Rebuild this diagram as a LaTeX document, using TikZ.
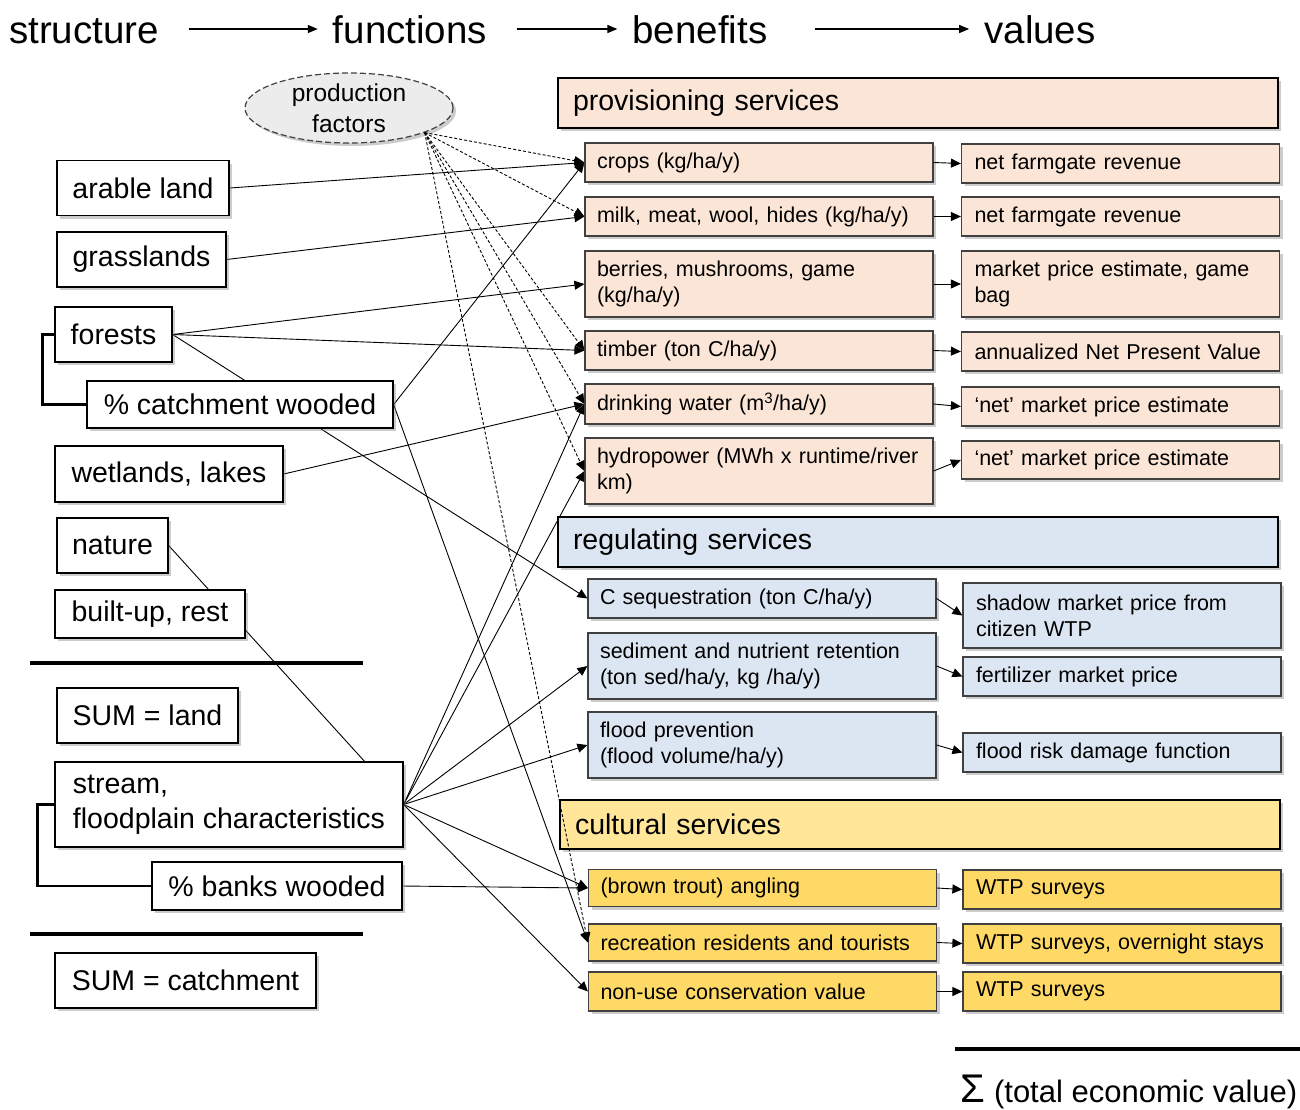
\documentclass[tikz,border=0pt]{standalone}
\usepackage{fontspec}
\setmainfont{Liberation Sans}
\usepackage{tikz}
\usetikzlibrary{arrows.meta, shapes.geometric, shadows, backgrounds}
\definecolor{provfill}{HTML}{FBE5D6}
\definecolor{regfill}{HTML}{DCE6F2}
\definecolor{culthead}{HTML}{FFE699}
\definecolor{cultfill}{HTML}{FFD966}
\definecolor{boxline}{HTML}{404040}
\newcommand{\fsize}[2]{\fontsize{#1}{#2}\selectfont}
\tikzset{
    boxshadow/.style={drop shadow={shadow xshift=3pt, shadow yshift=-3pt, opacity=0.4}},
    head/.style={font=\fsize{38.5}{46}, inner sep=0pt, text height=28pt, text depth=0pt},
    land/.style={draw, fill=white, line width=1.3pt, boxshadow, font=\fsize{28.5}{35}, minimum height=55pt, inner sep=0pt},
    svc/.style={draw, line width=1.8pt, boxshadow, font=\fsize{28.5}{34}, minimum height=50pt, text width=690pt, inner xsep=15pt, inner ysep=0pt, align=left},
    fn/.style={draw=boxline, line width=1.2pt, boxshadow, font=\fsize{21.5}{26}, minimum height=39pt, text width=324pt, inner xsep=12pt, inner ysep=0pt, align=left},
    val/.style={fn, text width=292pt, inner xsep=13pt},
    link/.style={line width=0.9pt, -{Triangle[length=10pt, width=9pt]}},
    factor/.style={link, dash pattern=on 3pt off 2pt},
    bracket/.style={line width=2.6pt},
    rule/.style={line width=3.5pt},
}

\begin{document}
\begin{tikzpicture}[x=1pt, y=-1pt]
    \useasboundingbox (0, 0) rectangle (1300, 1109);
    % header row
    \node[head] (ST) at (84, 29){structure};
    \node[head] (FN) at (410, 29){functions};
    \node[head] (BN) at (700, 29){benefits};
    \node[head] (VA) at (1040, 29){values};
    \draw[line width=1.3pt, -{Triangle[length=10pt, width=8pt]}, shorten <=30pt, shorten >=15pt] (ST) -- (FN);
    \draw[line width=1.3pt, -{Triangle[length=10pt, width=8pt]}, shorten <=30pt, shorten >=15pt] (FN) -- (BN);
    \draw[line width=1.3pt, -{Triangle[length=10pt, width=8pt]}, shorten <=47pt, shorten >=15pt] (BN) -- (VA);
    % structure
    \node[land, minimum width=172pt] (AL) at (143, 188){arable land};
    \node[land, minimum width=169pt] (GL) at (141.5, 259.5){grasslands};
    \node[land, minimum width=117pt] (FO) at (113.5, 334.5){forests};
    \node[land, minimum width=306pt, minimum height=47pt] (CW) at (240, 404.5){\% catchment wooded};
    \node[land, minimum width=228pt, minimum height=56pt] (WL) at (169, 474){wetlands, lakes};
    \node[land, minimum width=111pt] (NA) at (112.5, 545.5){nature};
    \node[land, minimum width=190pt, minimum height=48pt] (BU) at (150, 614){built-up, rest};
    \node[land, minimum width=181pt] (SL) at (147.5, 715.5){SUM = land};
    \node[land, minimum width=348pt, minimum height=85pt, align=left] (SF) at (229, 804.5){stream,\\floodplain characteristics};
    \node[land, minimum width=250pt, minimum height=48pt] (BW) at (277, 886){\% banks wooded};
    \node[land, minimum width=261pt] (SC) at (185.5, 980.5){SUM = catchment};
    \draw[bracket] (FO.west) -- ++(-12, 0) |- (CW.west);
    \draw[bracket] (SF.west) -- ++(-17, 0) |- (BW.west);
    \draw[rule] (30, 663) -- (363, 663);
    \draw[rule] (30, 934) -- (363, 934);
    \node[ellipse, draw=boxline, fill=gray!15, line width=1.2pt, dash pattern=on 6pt off 3pt, minimum width=208pt, minimum height=70pt, inner sep=0pt, align=center, font=\fsize{24.5}{31}, boxshadow] (PF) at (349, 108){production\\factors};
    % functions
    \node[svc, fill=provfill] (PS) at (918, 103){provisioning services};
    \node[fn, fill=provfill] (CR) at (759, 162.5){crops (kg/ha/y)};
    \node[fn, fill=provfill] (MI) at (759, 216.5){milk, meat, wool, hides (kg/ha/y)};
    \node[fn, fill=provfill, minimum height=66pt] (BE) at (759, 284){berries, mushrooms, game\\(kg/ha/y)};
    \node[fn, fill=provfill] (TI) at (759, 350.5){timber (ton C/ha/y)};
    \node[fn, fill=provfill, minimum height=40pt] (DW) at (759, 404){drinking water (m\textsuperscript{3}/ha/y)};
    \node[fn, fill=provfill, minimum height=66pt] (HY) at (759, 471){\mbox{hydropower (MWh x runtime/river}\\km)};
    \node[svc, fill=regfill] (RS) at (918, 542){regulating services};
    \node[fn, fill=regfill] (SQ) at (762, 598.5){C sequestration (ton C/ha/y)};
    \node[fn, fill=regfill, minimum height=66pt] (SN) at (762, 666){sediment and nutrient retention\\(ton sed/ha/y, kg /ha/y)};
    \node[fn, fill=regfill, minimum height=66pt] (FP) at (762, 745){flood prevention\\(flood volume/ha/y)};
    \node[svc, fill=culthead, minimum height=49pt] (CS) at (920, 824.5){cultural services};
    \node[fn, fill=cultfill, minimum height=37pt] (AN) at (762.5, 888){(brown trout) angling};
    \node[fn, fill=cultfill, minimum height=37pt] (RE) at (762.5, 942.5){recreation residents and tourists};
    \node[fn, fill=cultfill] (NU) at (762.5, 991.5){non-use conservation value};
    % values
    \node[val, fill=provfill] (V1) at (1120.5, 163.5){net farmgate revenue};
    \node[val, fill=provfill] (V2) at (1120.5, 216.5){net farmgate revenue};
    \node[val, fill=provfill, minimum height=66pt] (V3) at (1120.5, 284){market price estimate, game\\bag};
    \node[val, fill=provfill] (V4) at (1120.5, 351.5){annualized Net Present Value};
    \node[val, fill=provfill] (V5) at (1120.5, 406.5){‘net’ market price estimate};
    \node[val, fill=provfill, minimum height=38pt] (V6) at (1120.5, 460){‘net’ market price estimate};
    \node[val, fill=regfill, minimum height=65pt] (V7) at (1122, 615.5){shadow market price from\\citizen WTP};
    \node[val, fill=regfill] (V8) at (1122, 676.5){fertilizer market price};
    \node[val, fill=regfill] (V9) at (1122, 752.5){flood risk damage function};
    \node[val, fill=cultfill] (V10) at (1122, 889.5){WTP surveys};
    \node[val, fill=cultfill] (V11) at (1122, 943.5){WTP surveys, overnight stays};
    \node[val, fill=cultfill] (V12) at (1122, 991.5){WTP surveys};
    \draw[rule] (955, 1049) -- (1300, 1049);
    \node[font=\fsize{31}{36}] (TEV) at (1129, 1092){{\fsize{40}{40}Σ} (total economic value)};
    % structure -> functions
    \begin{scope}[on background layer]
        \draw[link] (AL.east) -- (CR.west);
        \draw[link] (GL.east) -- (MI.west);
        \draw[link] (FO.east) -- (BE.west);
        \draw[link] (FO.east) -- (TI.west);
        \draw[link] (FO.east) -- (SQ.west);
        \draw[link] (CW.east) -- (CR.west);
        \draw[link] (CW.east) -- (RE.west);
        \draw[link] (WL.east) -- (DW.west);
        \draw[line width=0.9pt] (NA.east) -- (SF.east);
        \draw[link] (SF.east) -- (DW.west);
        \draw[link] (SF.east) -- (HY.west);
        \draw[link] (SF.east) -- (SN.west);
        \draw[link] (SF.east) -- (FP.west);
        \draw[link] (SF.east) -- (AN.west);
        \draw[link] (SF.east) -- (NU.west);
        \draw[link] (BW.east) -- (AN.west);
    \end{scope}
    \draw[factor] (PF.-18) -- (CR.west);
    \draw[factor] (PF.-18) -- (MI.west);
    \draw[factor] (PF.-18) -- (TI.west);
    \draw[factor] (PF.-18) -- (DW.west);
    \draw[factor] (PF.-18) -- (HY.west);
    \draw[factor] (PF.-18) -- (RE.west);
    % functions -> values
    \draw[link] (CR.east) -- (V1.west);
    \draw[link] (MI.east) -- (V2.west);
    \draw[link] (BE.east) -- (V3.west);
    \draw[link] (TI.east) -- (V4.west);
    \draw[link] (DW.east) -- (V5.west);
    \draw[link] (HY.east) -- (V6.west);
    \draw[link] (SQ.east) -- (V7.west);
    \draw[link] (SN.east) -- (V8.west);
    \draw[link] (FP.east) -- (V9.west);
    \draw[link] (AN.east) -- (V10.west);
    \draw[link] (RE.east) -- (V11.west);
    \draw[link] (NU.east) -- (V12.west);
\end{tikzpicture}
\end{document}
